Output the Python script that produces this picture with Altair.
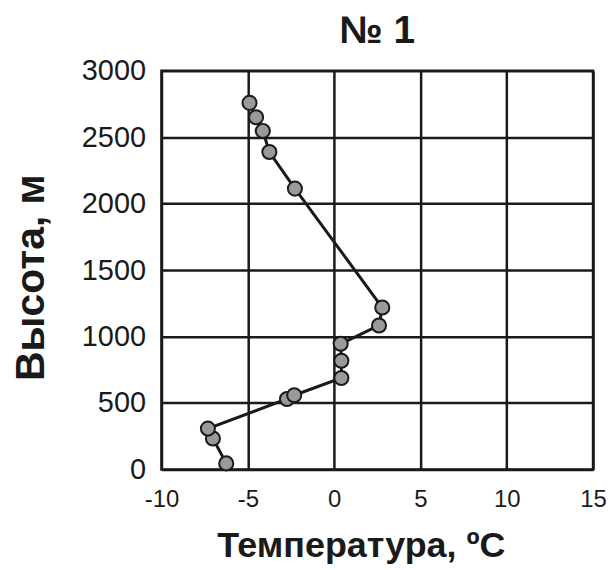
import altair as alt
import pandas as pd

temperature = [-6.25, -7.02, -7.31, -2.73, -2.31, 0.42, 0.42, 0.38, 2.60, 2.79, -2.27, -3.75, -4.13, -4.52, -4.90]
height_m = [45, 232, 307, 530, 558, 688, 818, 945, 1083, 1218, 2113, 2388, 2547, 2650, 2758]
x_ticks = [-10, -5, 0, 5, 10, 15]
y_ticks = [0, 500, 1000, 1500, 2000, 2500, 3000]

df = pd.DataFrame({"t": temperature, "h": height_m, "o": list(range(len(height_m)))})

FONT = "Liberation Sans"
ink = "#1a1a1a"

common = dict(labelColor=ink, titleColor=ink, labelFont=FONT, titleFont=FONT,
              titleFontWeight="bold", ticks=False, domain=False, grid=True,
              gridColor=ink, gridWidth=2.5, gridOpacity=1, labelExpr="'' + datum.value",
              labelFlush=False, labelOverlap=False)

x = alt.X("t:Q", scale=alt.Scale(domain=[-10, 15], nice=False),
          axis=alt.Axis(values=x_ticks, title="Температура, ºC",
                        labelFontSize=24, labelPadding=18,
                        titleFontSize=36, titleX=200, titleY=87, titleAlign="center",
                        titleBaseline="alphabetic", **common))
y = alt.Y("h:Q", scale=alt.Scale(domain=[0, 3000], nice=False),
          axis=alt.Axis(values=y_ticks, title="Высота, м",
                        labelFontSize=29, labelPadding=16,
                        titleFontSize=41, titleX=-118, titleY=207, titleAlign="center",
                        titleBaseline="alphabetic", titleAngle=270, **common))

line = alt.Chart(df).mark_line(color=ink, strokeWidth=3).encode(x=x, y=y, order="o:Q")
pts = alt.Chart(df).mark_point(filled=True, fill="#9a9a9a", stroke=ink, strokeWidth=2,
                               size=200, opacity=1, fillOpacity=1, shape="circle").encode(x=x, y=y)

chart = (line + pts).properties(
    width=433, height=400,
    title=alt.TitleParams("№ 1", fontSize=39, fontWeight="bold", font=FONT, color=ink,
                          offset=6, anchor="middle"),
    autosize=alt.AutoSizeParams(type="none"),
    padding={"left": 154, "top": 62, "right": 13, "bottom": 96},
).configure(background="white").configure_view(stroke=ink, strokeWidth=2.5)

chart.save("out.html", embed_options={"renderer": "svg", "actions": False})
